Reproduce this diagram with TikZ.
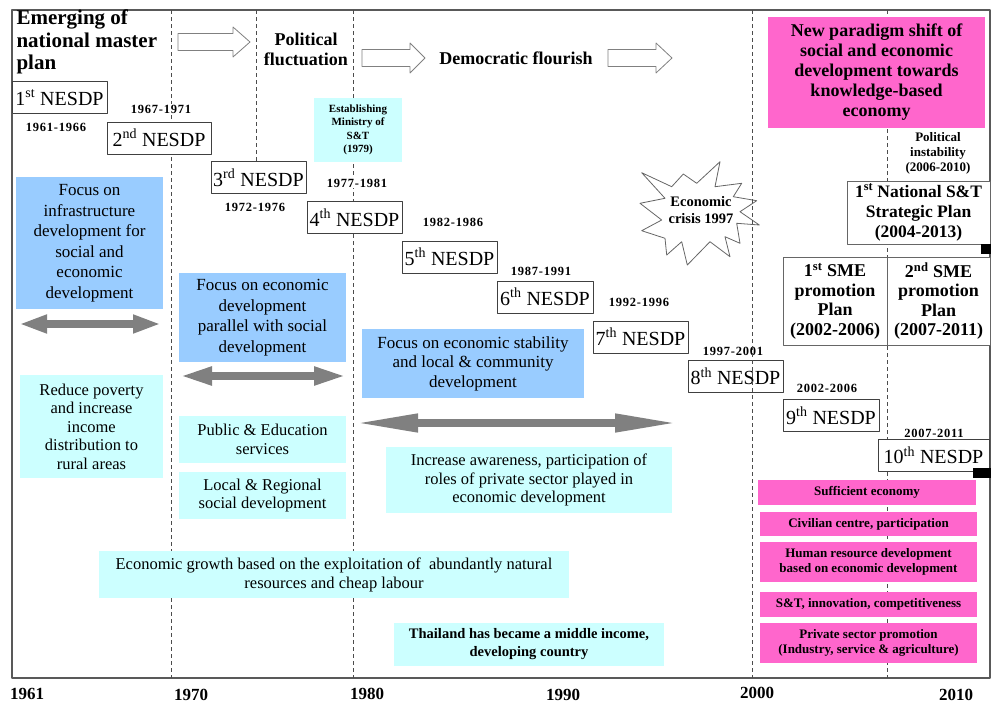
\documentclass[tikz,border=0pt]{standalone}
\usepackage{fontspec}
\setmainfont{Liberation Serif}
\newfontfamily\yearfont[LetterSpace=6]{Liberation Serif}
\usetikzlibrary{arrows.meta}
\definecolor{focusblue}{HTML}{99CCFF}
\definecolor{aimcyan}{HTML}{CCFFFF}
\definecolor{shiftpink}{HTML}{FF66CC}
\definecolor{spangray}{HTML}{808080}
\tikzset{
  frame/.style={draw=black!65, line width=1.3pt},
  period/.style={draw=black!70, line width=1pt, dash pattern=on 4pt off 3pt},
  hollow/.style={draw=black!50, fill=white, line width=0.8pt},
  burst/.style={draw=black!60, fill=white, line width=0.8pt},
  plan/.style={draw=black!75, fill=white, line width=1pt, inner sep=0pt, minimum height=32pt, font=\fontsize{20}{22}\selectfont},
  yr/.style={fill=white, inner sep=1pt, font=\yearfont\bfseries\fontsize{12.5}{14}\selectfont},
  axisyr/.style={inner sep=0pt, font=\bfseries\fontsize{17}{19}\selectfont},
  era/.style={align=center, font=\bfseries\fontsize{18}{20}\selectfont},
  focus/.style={fill=focusblue, inner sep=0pt, align=center, font=\fontsize{17}{20.5}\selectfont},
  aim/.style={fill=aimcyan, inner sep=0pt, align=center, font=\fontsize{16.5}{18.5}\selectfont},
  ks/.style={fill=shiftpink, inner sep=0pt, align=center, font=\bfseries\fontsize{13}{15}\selectfont},
  strat/.style={draw=black!60, fill=white, line width=1pt, inner sep=0pt, align=center, font=\bfseries\fontsize{17.5}{20}\selectfont},
  span/.style={draw=spangray, line width=7.5pt, {Triangle[length=#1,width=17pt]}-{Triangle[length=#1,width=17pt]}}
}
\begin{document}
\begin{tikzpicture}[x=1pt, y=-1pt, line join=round]
\useasboundingbox (0,0) rectangle (991,704);
\draw[frame] (12,10) rectangle (990,678);
% economic crisis
\draw[burst] (641.7,172.7) -- (671.7,186.7) -- (683.3,174) -- (696.7,183.3) -- (720,161.7)
  -- (715,186.7) -- (741.7,183.3) -- (733.3,196.7) -- (756.7,200.7) -- (740,211.7)
  -- (759.3,225) -- (736.7,223.3) -- (740,243.3) -- (725,236.7) -- (730,256.7)
  -- (710,241.7) -- (687.3,265) -- (681.7,241.7) -- (666.7,255) -- (665,238.3)
  -- (641.7,230.7) -- (661.7,220) -- (640,203.3) -- (665,198.3) -- cycle;
\node[align=center, font=\bfseries\fontsize{14.5}{16.5}\selectfont] (crisis) at (701,210) {Economic\\crisis 1997};
% decades
\foreach \x in {171,353,887}
  \draw[period] (\x,10) -- (\x,678);
\draw[period] (256,10) -- (256,162);
% eras
\node[anchor=west, align=left, font=\bfseries\fontsize{21}{22.5}\selectfont] (emerge) at (13,42) {Emerging of\\national master\\plan};
\node[era] (polfluct) at (306,49) {Political\\fluctuation};
\node[era] (democ) at (516,58) {Democratic flourish};
\foreach \xa/\xb/\xc/\yc in {178/233/250/42, 362/410/425/58, 608/656/672/58}
  \draw[hollow] (\xa,\yc-8.5) -- (\xb,\yc-8.5) -- (\xb,\yc-15) -- (\xc,\yc)
    -- (\xb,\yc+15) -- (\xb,\yc+8.5) -- (\xa,\yc+8.5) -- cycle;
% plans
\foreach \n/\s/\cx/\cy/\w in {1/st/59.5/97.5/95, 2/nd/159/138/104, 3/rd/258.5/177.5/95,
    4/th/354.5/217.5/95, 5/th/449.5/257/95, 6/th/545/297/96, 7/th/640.5/337/95,
    8/th/735.5/376/95, 9/th/831/415.5/96, 10/th/933.5/455/111}
  \node[plan, minimum width=\w] (p\n) at (\cx,\cy) {\n\textsuperscript{\s} NESDP};
\foreach \t/\cx/\cy [count=\i] in {1961-1966/56/127, 1967-1971/161/109, 1972-1976/255/207,
    1977-1981/357/183, 1982-1986/453/222, 1987-1991/541/271, 1992-1996/639/302,
    1997-2001/733/351, 2002-2006/827/388, 2007-2011/934/433}
  \node[yr] (yr\i) at (\cx,\cy) {\t};
\node[aim, minimum width=88, minimum height=64, font=\bfseries\fontsize{11}{13.5}\selectfont] (most) at (358,130) {Establishing\\Ministry of\\S\&T\\(1979)};
% focus
\node[focus, minimum width=147, minimum height=132] (foc1) at (89.5,243) {Focus on\\infrastructure\\development for\\social and\\economic\\development};
\node[focus, minimum width=167, minimum height=89] (foc2) at (262.5,317.5) {Focus on economic\\development\\parallel with social\\development};
\node[focus, minimum width=222, minimum height=69, font=\fontsize{17}{19.5}\selectfont] (foc3) at (473,363.5) {Focus on economic stability\\and local \& community\\development};
\coordinate (s1l) at (19,324);  \coordinate (s1r) at (161,324);
\coordinate (s2l) at (180,376); \coordinate (s2r) at (346,376);
\coordinate (s3l) at (355,423); \coordinate (s3r) at (678,423);
\draw[span=28pt] (s1l) -- (s1r);
\draw[span=32pt] (s2l) -- (s2r);
\draw[span=63pt] (s3l) -- (s3r);
% aims
\node[aim, minimum width=143, minimum height=103] (aim1) at (91.5,426.5) {Reduce poverty\\and increase\\income\\distribution to\\rural areas};
\node[aim, minimum width=167, minimum height=47] (aim2) at (262.5,439.5) {Public \& Education\\services};
\node[aim, minimum width=167, minimum height=47] (aim3) at (262.5,495.5) {Local \& Regional\\social development};
\node[aim, minimum width=286, minimum height=66] (aim4) at (529,480) {Increase awareness, participation of\\roles of private sector played in\\economic development};
\node[aim, minimum width=470, minimum height=47, font=\fontsize{16.5}{19}\selectfont] (aim5) at (334,574.5) {Economic growth based on the exploitation of~ abundantly natural\\resources and cheap labour};
\node[aim, minimum width=270, minimum height=43, font=\bfseries\fontsize{14.5}{18}\selectfont] (aim6) at (529,644.5) {Thailand has became a middle income,\\developing country};
% knowledge-based economy
\node[ks, minimum width=217, minimum height=111, font=\bfseries\fontsize{18}{20}\selectfont] (kbe) at (876.5,72.5) {New paradigm shift of\\social and economic\\development towards\\knowledge-based\\economy};
\node[align=center, font=\bfseries\fontsize{13}{15}\selectfont] (polinst) at (938,153) {Political\\instability\\(2006-2010)};
\node[strat, minimum width=143, minimum height=63] (stplan) at (918.5,212.5) {1\textsuperscript{st} National S\&T\\Strategic Plan\\(2004-2013)};
\node[strat, minimum width=104, minimum height=88, font=\bfseries\fontsize{18}{19.5}\selectfont] (sme1) at (835,301) {1\textsuperscript{st} SME\\promotion\\Plan\\(2002-2006)};
\node[strat, minimum width=103, minimum height=88, font=\bfseries\fontsize{18}{19.5}\selectfont] (sme2) at (938.5,301) {2\textsuperscript{nd} SME\\promotion\\Plan\\(2007-2011)};
\fill (981,244) rectangle (991,254);
\fill (973,468) rectangle (991,478);
\node[ks, minimum width=218, minimum height=25] (ks1) at (867,492.5) {Sufficient economy};
\node[ks, minimum width=217, minimum height=24] (ks2) at (868.5,524) {Civilian centre, participation};
\node[ks, minimum width=217, minimum height=40] (ks3) at (868.5,562) {Human resource development\\based on economic development};
\node[ks, minimum width=217, minimum height=25] (ks4) at (868.5,604.5) {S\&T, innovation, competitiveness};
\node[ks, minimum width=217, minimum height=40] (ks5) at (868.5,643) {Private sector promotion\\(Industry, service \& agriculture)};
\draw[period] (752,10) -- (752,678);
% axis
\foreach \t/\cx/\cy [count=\i] in {1961/27/694, 1970/191/695, 1980/367/694, 1990/563/695, 2000/757/693, 2010/956/695}
  \node[axisyr] (ax\i) at (\cx,\cy) {\t};
\end{tikzpicture}
\end{document}
